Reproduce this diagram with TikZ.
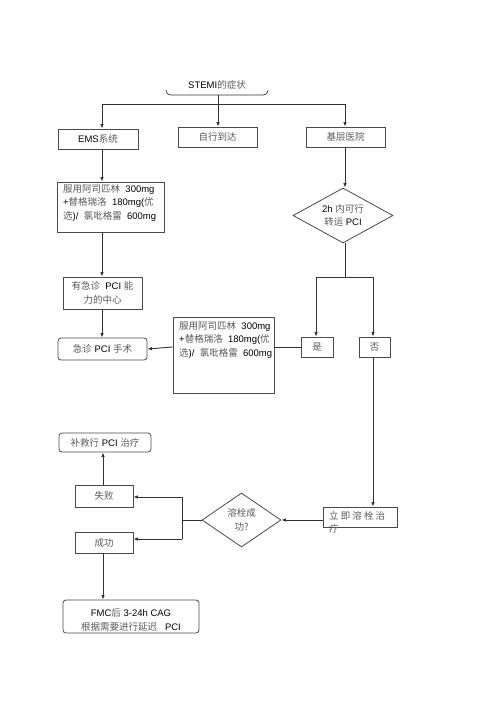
\documentclass[tikz,border=0pt]{standalone}
\usepackage{fontspec}
\setmainfont{Liberation Sans}
\newfontfamily\cjk{Noto Sans CJK SC}
\usetikzlibrary{arrows.meta,shapes.geometric}
\definecolor{zh}{HTML}{5A5A5A}
\definecolor{linec}{HTML}{333333}
\definecolor{boxc}{HTML}{4A4A4A}
\newcommand{\zh}[1]{{\cjk\color{zh}#1}}
\begin{document}
\begin{tikzpicture}[x=1pt,y=-1pt,
  every node/.style={font=\fontsize{9.5}{13.5}\selectfont, inner sep=0pt},
  box/.style={draw=boxc, line width=0.8pt, align=center},
  rbox/.style={box, rounded corners=3pt},
  dia/.style={draw=boxc, line width=0.8pt, diamond, align=center},
  ln/.style={draw=linec, line width=0.9pt},
  arr/.style={ln, -{Latex[length=4.5pt,width=3.5pt]}},
  txt/.style={align=left, anchor=north west}
]
\fill[white] (0,0) rectangle (500,708);
\useasboundingbox (0,0) rectangle (500,708);

% top
\node (stemi) at (217,85) {STEMI\zh{的症状}};
\coordinate (brL) at (166,90);
\coordinate (brR) at (268,90);
\coordinate (brM) at (218,95);
\draw[ln, line width=0.7pt] (brL) .. controls (167,94) .. (171,95) -- (263,95) .. controls (267,94) .. (brR);
\coordinate (hM) at (218,104);
\coordinate (hL) at (102,104);
\coordinate (hR) at (345,104);
\draw[ln] (brM) -- (hM);
\draw[ln] (hL) -- (hR);

\node[box, minimum width=80pt, minimum height=20pt] (ems) at (98,139) {EMS\zh{系统}};
\node[box, minimum width=79pt, minimum height=20pt] (self) at (217.5,137) {\zh{自行到达}};
\node[box, minimum width=79pt, minimum height=20pt] (base) at (345.5,137) {\zh{基层医院}};
\draw[arr] (hL) -- (hL |- ems.north);
\draw[arr] (hM) -- (hM |- self.north);
\draw[arr] (hR) -- (hR |- base.north);

% drug box 1
\node[box, minimum width=107pt, minimum height=50pt] (drugA) at (110.5,207) {};
\node[txt] (drugAt) at (63,184) {\zh{服用阿司匹林}\ \ 300mg\\+\zh{替格瑞洛}\ \ 180mg(\zh{优}\\\zh{选})/\ \ \zh{氯吡格雷}\ \ 600mg};
\draw[arr] (ems.south -| hL) -- (drugA.north -| hL);

% diamond 2h
\node[dia, minimum width=100pt, minimum height=55pt, aspect=1.8] (d2h) at (343,215.5) {2h \zh{内可行}\\\zh{转运} PCI};
\draw[arr] (base.south -| hR) -- (d2h.north -| hR);

% split yes / no
\node[box, minimum width=32pt, minimum height=20pt] (yes) at (317,347) {\zh{是}};
\node[box, minimum width=31pt, minimum height=20pt] (no) at (374.5,347) {\zh{否}};
\coordinate (sp) at (345,277);
\coordinate (spL) at (316,277);
\coordinate (spR) at (373,277);
\draw[ln] (d2h.south -| sp) -- (sp);
\draw[ln] (spL) -- (spR);
\draw[arr] (spL) -- (spL |- yes.north);
\draw[arr] (spR) -- (spR |- no.north);

% centre with PCI
\node[box, minimum width=79pt, minimum height=32pt] (ctr) at (102.5,293) {\zh{有急诊}\ \ PCI \zh{能}\\\zh{力的中心}};
\draw[arr] (drugA.south -| hL) -- (ctr.north -| hL);
\node[rbox, minimum width=89pt, minimum height=22pt] (pci) at (102.5,349) {\zh{急诊} PCI \zh{手术}};
\draw[arr] (ctr.south -| hL) -- (pci.north -| hL);

% drug box 2
\node[box, minimum width=101pt, minimum height=76pt] (drugB) at (223.5,355) {};
\node[txt] (drugBt) at (179,321) {\zh{服用阿司匹林}\ \ 300mg\\+\zh{替格瑞洛}\ \ 180mg(\zh{优}\\\zh{选})/\ \ \zh{氯吡格雷}\ \ 600mg};
\draw[ln] (yes.west) -- (yes.west -| drugB.east);
\draw[arr] (yes.west -| drugB.west) -- (pci.east);

% thrombolysis
\node[box, minimum width=74pt, minimum height=20pt] (lys) at (360,517) {};
\node[txt] (lyst) at (329,511) {\zh{立\ 即\ 溶\ 栓\ 治}\\\zh{疗}};
\draw[arr] (no.south -| spR) -- (lys.north -| spR);

% success diamond
\node[dia, minimum width=79pt, minimum height=54pt, aspect=1.46] (sd) at (241.5,520) {\zh{溶栓成}\\\zh{功?}};
\draw[arr] (lys.west |- sd.east) -- (sd.east);

\node[box, minimum width=58pt, minimum height=22pt] (fail) at (104,496) {\zh{失败}};
\node[box, minimum width=58pt, minimum height=21pt] (succ) at (104,542.5) {\zh{成功}};
\coordinate (vT) at (182,497);
\coordinate (vB) at (182,539);
\coordinate (vM) at (182,520);
\draw[ln] (sd.west) -- (vM);
\draw[ln] (vT) -- (vB);
\draw[arr] (vT) -- (vT -| fail.east);
\draw[arr] (vB) -- (vB -| succ.east);

\node[rbox, minimum width=92pt, minimum height=19pt] (rescue) at (105,442.5) {\zh{补救行} PCI \zh{治疗}};
\coordinate (cx) at (103,470);
\draw[arr] (fail.north -| cx) -- (rescue.south -| cx);

\node[rbox, minimum width=136pt, minimum height=33pt] (fmc) at (131,616.5) {};
\node[align=center] (fmct) at (131,620) {FMC\zh{后} 3-24h CAG\\\zh{根据需要进行延迟}\ \ \ PCI};
\draw[arr] (succ.south -| cx) -- (fmc.north -| cx);
\end{tikzpicture}
\end{document}
